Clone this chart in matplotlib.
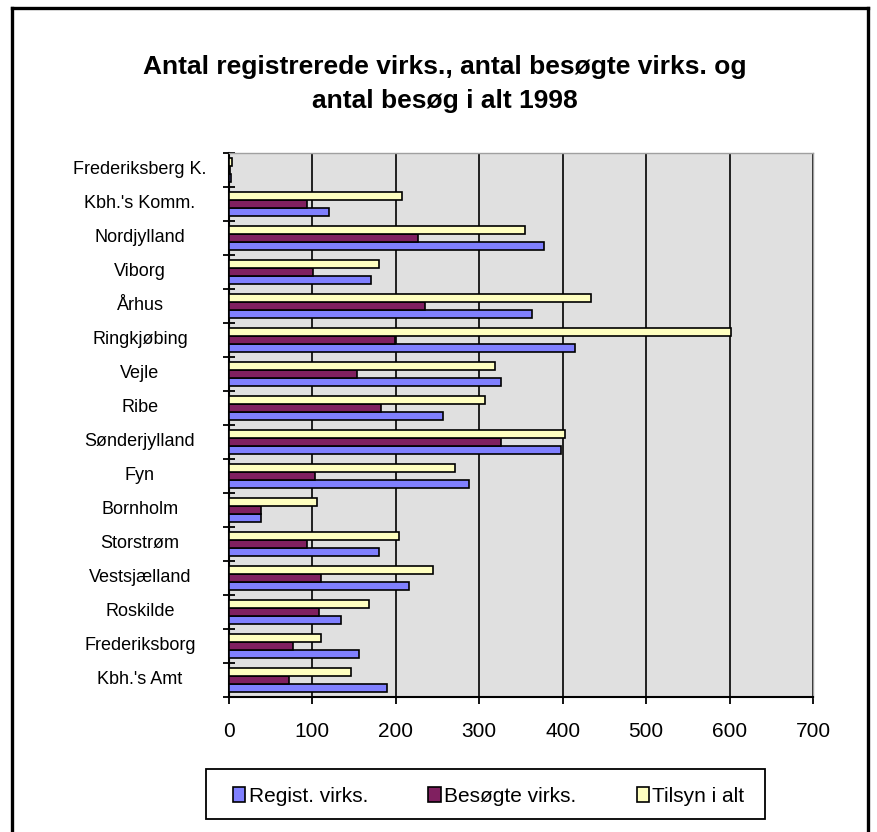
import matplotlib
matplotlib.use("Agg")
import matplotlib.pyplot as plt
import numpy as np
from matplotlib.transforms import blended_transform_factory
from matplotlib.lines import Line2D
from matplotlib.patches import Rectangle

plt.rcParams['font.family'] = ['Liberation Sans', 'DejaVu Sans']

# Categories listed bottom -> top
categories = ["Kbh.'s Amt", "Frederiksborg", "Roskilde", "Vestsjælland", "Storstrøm",
              "Bornholm", "Fyn", "Sønderjylland", "Ribe", "Vejle", "Ringkjøbing",
              "Århus", "Viborg", "Nordjylland", "Kbh.'s Komm.", "Frederiksberg K."]
regist = [189, 156, 134, 216, 180, 38, 288, 398, 257, 326, 415, 363, 170, 377, 120, 2]
besogte = [72, 77, 108, 110, 94, 38, 103, 326, 182, 153, 199, 235, 101, 226, 94, 1]
tilsyn = [146, 110, 168, 245, 204, 106, 271, 403, 307, 319, 602, 434, 180, 355, 207, 3]
series_names = ["Regist. virks.", "Besøgte virks.", "Tilsyn i alt"]
xticks = [0, 100, 200, 300, 400, 500, 600, 700]
title = "Antal registrerede virks., antal besøgte virks. og\nantal besøg i alt 1998"

colors = ["#8080ff", "#802060", "#ffffc0"]
FS_CAT = 13
FS_X = 15
FS_LEG = 15

W, H = 878, 832
fig = plt.figure(figsize=(W / 100, H / 100), dpi=100)

# Axes placement (pixel based)
ax_l, ax_r, ax_t, ax_b = 229, 813, 153, 697
ax = fig.add_axes([ax_l / W, 1 - ax_b / H, (ax_r - ax_l) / W, (ax_b - ax_t) / H])
ax.set_facecolor("#e0e0e0")

y = np.arange(len(categories))
h = 0.238
for off, vals, c in zip([-h, 0, h], [regist, besogte, tilsyn], colors):
    ax.barh(y + off, vals, height=h, color=c, edgecolor="black", linewidth=1.2, zorder=3)

ax.set_xlim(0, 700)
ax.set_ylim(-0.5, len(categories) - 0.5)
ax.set_xticks(xticks)
ax.set_xticklabels([str(v) for v in xticks], fontsize=FS_X)
ax.set_yticks(np.arange(len(categories) + 1) - 0.5)
ax.set_yticklabels([])
ax.tick_params(axis='y', direction='inout', length=9, width=1.3, color='black')
ax.tick_params(axis='x', direction='out', length=5, width=1.3, color='black', pad=13)
ax.set_axisbelow(True)
ax.xaxis.grid(True, color='black', linewidth=1.2, zorder=0)
ax.yaxis.grid(False)

for s in ['left', 'bottom']:
    ax.spines[s].set_color('black')
    ax.spines[s].set_linewidth(1.5)
for s in ['top', 'right']:
    ax.spines[s].set_color('#a0a0a0')
    ax.spines[s].set_linewidth(1.0)

trans = blended_transform_factory(ax.transAxes, ax.transData)
lab_x = (140 - ax_l) / (ax_r - ax_l)
for yi, lab in zip(y, categories):
    ax.text(lab_x, yi, lab, transform=trans, ha='center', va='center', fontsize=FS_CAT)

# Title
fig.text(445 / W, 1 - 84 / H, title, ha='center', va='center', fontsize=19,
         fontweight='bold', linespacing=1.5)

# Legend (frame drawn separately)
handles = [plt.Rectangle((0, 0), 1, 1, facecolor=c, edgecolor='black', linewidth=1.2)
           for c in colors]
leg = fig.legend(handles, series_names, loc='center left',
                 bbox_to_anchor=(233 / W, 1 - 796 / H),
                 ncol=3, fontsize=FS_LEG, frameon=False,
                 handlelength=0.6, handleheight=0.7, handletextpad=0.15,
                 columnspacing=2.9, borderaxespad=0, borderpad=0)
fig.add_artist(Rectangle((206 / W, 1 - 819 / H), (765 - 206) / W, 50 / H, fill=False,
                         edgecolor='black', linewidth=1.3, transform=fig.transFigure))

# Outer border
bw = 2.4
fig.add_artist(Line2D([12 / W, 12 / W], [0, 1 - 8 / H], color='black', linewidth=bw,
                      transform=fig.transFigure))
fig.add_artist(Line2D([12 / W, 868 / W], [1 - 8 / H, 1 - 8 / H], color='black', linewidth=bw,
                      transform=fig.transFigure))
fig.add_artist(Line2D([868 / W, 868 / W], [0, 1 - 8 / H], color='black', linewidth=bw,
                      transform=fig.transFigure))

fig.savefig("out.png", dpi=100)
